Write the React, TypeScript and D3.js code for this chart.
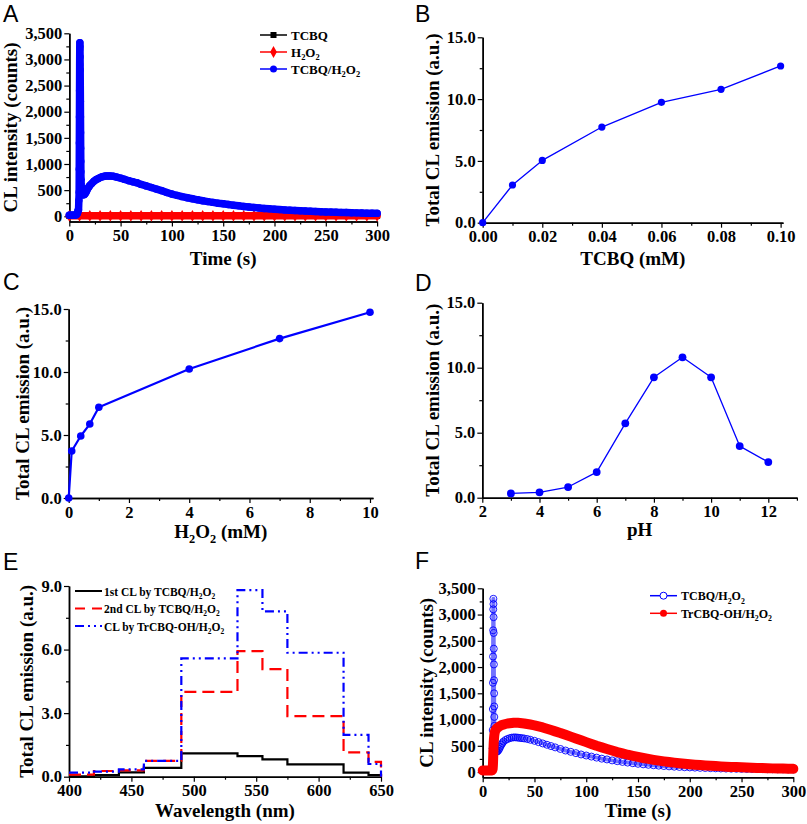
import React, { useEffect, useRef } from "react";
import * as d3 from "d3";

// ---------- data ----------

// kinetic traces (A and F) share one time grid, seconds
const kineticTime = [
  0, 1, 2, 3, 4, 5, 6, 7, 8, 8.5, 9, 9.3,
  9.6, 9.7, 9.8, 9.9, 10, 10.1, 10.2, 10.3, 10.4, 10.5, 10.6, 10.7, 10.8, 10.9, 11, 11.1, 11.2, 11.3, 11.4,
  11.6, 11.8, 12, 12.5, 13, 13.5, 14,
  15, 16, 17, 18, 19, 20,
  22, 24, 26, 28, 30, 32, 34, 36, 38, 40,
  43, 46,
  50, 54, 58, 62, 66, 70,
  75, 80, 85, 90, 95, 100, 105, 110, 115, 120,
  125, 130, 135, 140, 145, 150, 155, 160, 165, 170,
  175, 180, 185, 190, 195, 200, 205, 210, 215, 220,
  225, 230, 235, 240, 245, 250, 255, 260, 265, 270,
  275, 280, 285, 290, 295, 300,
];

// panel A, TCBQ/H2O2
const tcbqH2o2CountsA = [
  20, 20, 20, 20, 20, 20, 25, 30, 60, 110, 120, 300,
  460, 900, 1400, 1900, 2400, 2900, 3200, 3320, 3250, 3050, 2800, 2500, 2200, 1900, 1600, 1300, 1050, 850, 700,
  600, 540, 500, 460, 430, 420, 410,
  420, 450, 490, 530, 560, 590,
  630, 670, 700, 720, 740, 755, 765, 770, 770, 770,
  765, 750,
  730, 705, 680, 660, 640, 610,
  580, 550, 520, 490, 455, 425, 400, 375, 355, 335,
  315, 298, 281, 265, 250, 240, 225, 212, 200, 188,
  177, 167, 158, 150, 142, 135, 128, 122, 116, 110,
  105, 100, 95, 91, 87, 83, 80, 77, 74, 71,
  68, 65, 62, 60, 58, 56,
];

// panel A controls (flat near zero)
const controlTime = [0, 10, 20, 30, 40, 50, 60, 70, 80, 90, 100, 110, 120, 130, 140, 150, 160, 170, 180, 190, 200, 210, 220, 230, 240, 250, 260, 270, 280, 290, 300];
const tcbqCounts = [5, 5, 5, 5, 5, 5, 5, 5, 5, 5, 5, 5, 5, 5, 5, 5, 5, 5, 5, 5, 5, 5, 5, 5, 5, 5, 5, 5, 5, 5, 5];
const h2o2Counts = [8, 8, 8, 8, 8, 8, 8, 8, 8, 8, 8, 8, 8, 8, 8, 8, 8, 8, 8, 8, 8, 8, 8, 8, 8, 8, 8, 8, 8, 8, 8];

// panel F
const tcbqH2o2CountsF = [
  40, 40, 40, 40, 40, 40, 40, 40, 40, 40, 50, 150,
  450, 800, 1200, 1700, 2200, 2700, 3100, 3300, 3200, 2950, 2650, 2350, 2050, 1750, 1500, 1250, 1050, 880, 740,
  620, 540, 480, 430, 400, 390, 390,
  410, 440, 480, 520, 550, 580,
  610, 630, 645, 655, 660, 660, 655, 650, 645, 640,
  630, 615,
  595, 570, 545, 520, 495, 470,
  440, 410, 385, 360, 335, 315, 295, 275, 255, 240,
  222, 207, 193, 180, 168, 157, 147, 138, 130, 122,
  115, 108, 102, 97, 92, 88, 84, 80, 77, 74,
  71, 68, 66, 64, 62, 60, 58, 57, 56, 55,
  54, 53, 52, 51, 50, 50,
];
const trcbqOhCounts = [
  30, 30, 30, 30, 30, 30, 30, 30, 30, 30, 30, 40,
  60, 80, 110, 150, 200, 260, 320, 380, 440, 490, 540, 580, 610, 640, 660, 680, 700, 715, 730,
  750, 765, 780, 800, 815, 830, 840,
  855, 870, 880, 890, 900, 905,
  915, 925, 930, 935, 940, 940, 938, 935, 930, 925,
  915, 905,
  890, 870, 850, 825, 800, 775,
  745, 710, 675, 640, 605, 570, 535, 500, 470, 440,
  410, 380, 355, 330, 308, 287, 268, 250, 233, 218,
  204, 191, 179, 168, 158, 149, 141, 133, 126, 120,
  114, 108, 103, 98, 94, 90, 86, 82, 79, 76,
  73, 70, 68, 66, 64, 62,
];

// panel B
const tcbqConc = [0, 0.01, 0.02, 0.04, 0.06, 0.08, 0.1];
const tcbqEmission = [0, 3.05, 5.04, 7.74, 9.74, 10.79, 12.68];

// panel C
const h2o2Conc = [0, 0.1, 0.4, 0.7, 1, 4, 7, 10];
const h2o2Emission = [0, 3.73, 4.92, 5.87, 7.2, 10.24, 12.65, 14.74];

// panel D
const phValues = [3, 4, 5, 6, 7, 8, 9, 10, 11, 12];
const phEmission = [0.33, 0.41, 0.82, 1.97, 5.72, 9.26, 10.8, 9.26, 3.97, 2.74];

// panel E (step edges, nm; last entry closes the histogram)
const wavelengthEdges = [400, 420, 440, 460, 490, 535, 555, 575, 620, 640, 650];
const firstCL = [0.02, 0.07, 0.2, 0.42, 1.1, 0.97, 0.82, 0.58, 0.19, 0.08, 0];
const secondCL = [0.1, 0.27, 0.3, 0.75, 4.0, 5.93, 5.08, 2.86, 1.15, 0.7, 0];
const trcbqOhCL = [0.19, 0.24, 0.35, 0.75, 5.58, 8.81, 7.8, 5.85, 1.97, 0.6, 0];

// ticks
const countTicks = [0, 500, 1000, 1500, 2000, 2500, 3000, 3500];
const timeTicks = [0, 50, 100, 150, 200, 250, 300];
const emissionTicks = [0, 5, 10, 15];
const tcbqTicks = [0, 0.02, 0.04, 0.06, 0.08, 0.1];
const h2o2Ticks = [0, 2, 4, 6, 8, 10];
const phTicks = [2, 4, 6, 8, 10, 12];
const spectrumTicks = [0, 3, 6, 9];
const wavelengthTicks = [400, 450, 500, 550, 600, 650];

// ---------- styling ----------
const BLUE = "#0000ff";
const RED = "#ff0000";
const SERIF = "'Liberation Serif', 'Times New Roman', serif";
const SANS = "'Liberation Sans', Arial, sans-serif";
const TICK_FONT = 16.5;
const TITLE_FONT = 19;

const midpoints = (t: number[]) => t.slice(1).map((v, i) => (v + t[i]) / 2);

// text with "_2" style subscripts
function richText(sel: any, label: string, size: number) {
  const parts = label.split(/(_\d)/).filter((s) => s.length);
  let down = false;
  parts.forEach((p) => {
    if (p.startsWith("_")) {
      sel.append("tspan").attr("font-size", size * 0.65).attr("dy", down ? 0 : size * 0.28).text(p.slice(1));
      down = true;
    } else {
      sel.append("tspan").attr("dy", down ? -size * 0.28 : 0).text(p);
      down = false;
    }
  });
}

function frame(svg: any, s: any) {
  const x = d3.scaleLinear().domain(s.xDomain).range([s.left, s.right]);
  const y = d3.scaleLinear().domain(s.yDomain).range([s.bottom, s.top]);
  const g = svg.append("g");

  const style = (a: any) => {
    a.attr("font-size", TICK_FONT).attr("font-family", SERIF).attr("font-weight", "bold");
    a.select(".domain").attr("stroke-width", 1.5);
    a.selectAll(".tick line").attr("stroke-width", 1.2);
    a.selectAll("text").attr("fill", "#000");
  };

  g.append("g")
    .attr("transform", `translate(0,${s.bottom})`)
    .call(d3.axisBottom(x).tickValues(s.xMinor).tickSize(3).tickSizeOuter(0).tickFormat(() => ""))
    .call(style);
  g.append("g")
    .attr("transform", `translate(${s.left},0)`)
    .call(d3.axisLeft(y).tickValues(s.yMinor).tickSize(3).tickSizeOuter(0).tickFormat(() => ""))
    .call(style);
  g.append("g")
    .attr("transform", `translate(0,${s.bottom})`)
    .call(d3.axisBottom(x).tickValues(s.xMajor).tickSize(5).tickSizeOuter(0).tickPadding(3).tickFormat(s.xFormat))
    .call(style);
  g.append("g")
    .attr("transform", `translate(${s.left},0)`)
    .call(d3.axisLeft(y).tickValues(s.yMajor).tickSize(5).tickSizeOuter(0).tickPadding(2).tickFormat(s.yFormat))
    .call(style);

  const xt = svg
    .append("text")
    .attr("x", (s.left + s.right) / 2)
    .attr("y", s.xTitleY)
    .attr("text-anchor", "middle")
    .attr("font-family", SERIF)
    .attr("font-weight", "bold")
    .attr("font-size", TITLE_FONT);
  richText(xt, s.xTitle, TITLE_FONT);

  svg
    .append("text")
    .attr("transform", `translate(${s.yTitleX + TITLE_FONT * 0.34},${(s.top + s.bottom) / 2}) rotate(-90)`)
    .attr("text-anchor", "middle")
    .attr("font-family", SERIF)
    .attr("font-weight", "bold")
    .attr("font-size", TITLE_FONT)
    .text(s.yTitle);

  svg
    .append("text")
    .attr("x", s.letterX)
    .attr("y", s.letterY)
    .attr("font-family", SANS)
    .attr("font-size", 23)
    .text(s.letter);

  return { x, y };
}

function legendRow(svg: any, lx: number, ly: number, color: string, label: string, marker: string, size: number, dash?: string) {
  svg
    .append("line")
    .attr("x1", lx)
    .attr("x2", lx + 27)
    .attr("y1", ly)
    .attr("y2", ly)
    .attr("stroke", color)
    .attr("stroke-width", marker === "none" ? 2 : 1.5)
    .attr("stroke-dasharray", dash || null);
  const mx = lx + 13.5;
  if (marker === "square") svg.append("rect").attr("x", mx - 3).attr("y", ly - 3).attr("width", 6).attr("height", 6).attr("fill", color);
  if (marker === "diamond")
    svg.append("path").attr("transform", `translate(${mx},${ly})`).attr("d", d3.symbol(d3.symbolDiamond, 40)()).attr("fill", color);
  if (marker === "circle") svg.append("circle").attr("cx", mx).attr("cy", ly).attr("r", 3.5).attr("fill", color);
  if (marker === "open") svg.append("circle").attr("cx", mx).attr("cy", ly).attr("r", 3.5).attr("fill", "#fff").attr("stroke", color);
  const t = svg
    .append("text")
    .attr("x", lx + (marker === "none" ? 29 : 31))
    .attr("y", ly + 4.5)
    .attr("font-family", SERIF)
    .attr("font-weight", "bold")
    .attr("font-size", size);
  richText(t, label, size);
}

function band(svg: any, x: any, y: any, xs: number[], ys: number[], color: string, width: number, opacity = 1) {
  const n = Math.min(xs.length, ys.length);
  const pts = d3.range(n).map((i) => [xs[i], ys[i]] as [number, number]);
  svg
    .append("path")
    .attr("d", d3.line().x((d) => x(d[0])).y((d) => y(d[1]))(pts))
    .attr("fill", "none")
    .attr("stroke", color)
    .attr("stroke-opacity", opacity)
    .attr("stroke-width", width)
    .attr("stroke-linejoin", "round")
    .attr("stroke-linecap", "round");
  return pts;
}

function lineWithDots(svg: any, x: any, y: any, xs: number[], ys: number[], width: number, r: number) {
  const pts = band(svg, x, y, xs, ys, BLUE, width);
  svg
    .append("g")
    .selectAll("circle")
    .data(pts)
    .enter()
    .append("circle")
    .attr("cx", (d: any) => x(d[0]))
    .attr("cy", (d: any) => y(d[1]))
    .attr("r", r)
    .attr("fill", BLUE);
}

export default function App() {
  const ref = useRef<SVGSVGElement>(null);

  useEffect(() => {
    const svg = d3.select(ref.current);
    svg.selectAll("*").remove();
    svg.append("rect").attr("width", 807).attr("height", 824).attr("fill", "#fff");

    const fmtCount = d3.format(",");
    const fmt1 = d3.format(".1f");

    // ---- A ----
    const a = frame(svg, {
      letter: "A", letterX: 3, letterY: 21.5,
      left: 69.3, right: 377.1, bottom: 221.5, top: 33.3,
      xDomain: [0, 300], yDomain: [-100, 3500],
      xMajor: timeTicks, xMinor: midpoints(timeTicks),
      yMajor: countTicks, yMinor: midpoints(countTicks),
      xFormat: d3.format("d"), yFormat: fmtCount,
      xTitle: "Time (s)", xTitleY: 265,
      yTitle: "CL intensity (counts)", yTitleX: 11,
    });
    const pa = svg.append("g");
    const blackPts = band(pa, a.x, a.y, controlTime, tcbqCounts, "#000", 6);
    pa.append("g").selectAll("rect").data(blackPts).enter().append("rect")
      .attr("x", (d: any) => a.x(d[0]) - 3).attr("y", (d: any) => a.y(d[1]) - 3)
      .attr("width", 6).attr("height", 6).attr("fill", "#000");
    const redPts = band(pa, a.x, a.y, controlTime, h2o2Counts, RED, 7.5);
    pa.append("g").selectAll("path").data(redPts).enter().append("path")
      .attr("transform", (d: any) => `translate(${a.x(d[0])},${a.y(d[1])})`)
      .attr("d", d3.symbol(d3.symbolDiamond, 40)()).attr("fill", RED);
    const bluePts = band(pa, a.x, a.y, kineticTime, tcbqH2o2CountsA, BLUE, 7.5);
    pa.append("g").selectAll("circle").data(bluePts).enter().append("circle")
      .attr("cx", (d: any) => a.x(d[0])).attr("cy", (d: any) => a.y(d[1]))
      .attr("r", 3.7).attr("fill", BLUE);
    legendRow(svg, 260, 35, "#000", "TCBQ", "square", 13);
    legendRow(svg, 260, 52, RED, "H_2O_2", "diamond", 13);
    legendRow(svg, 260, 69, BLUE, "TCBQ/H_2O_2", "circle", 13);

    // ---- B ----
    const b = frame(svg, {
      letter: "B", letterX: 415, letterY: 21.5,
      left: 482.7, right: 783, bottom: 222.7, top: 37.3,
      xDomain: [0, 0.1008], yDomain: [0, 15],
      xMajor: tcbqTicks, xMinor: midpoints(tcbqTicks),
      yMajor: emissionTicks, yMinor: midpoints(emissionTicks),
      xFormat: d3.format(".2f"), yFormat: fmt1,
      xTitle: "TCBQ (mM)", xTitleY: 265,
      yTitle: "Total CL emission (a.u.)", yTitleX: 433,
    });
    lineWithDots(svg, b.x, b.y, tcbqConc, tcbqEmission, 1.3, 3.6);

    // ---- C ----
    const c = frame(svg, {
      letter: "C", letterX: 3, letterY: 290,
      left: 68.7, right: 373, bottom: 498, top: 309,
      xDomain: [0, 10.1], yDomain: [0, 15],
      xMajor: h2o2Ticks, xMinor: midpoints(h2o2Ticks),
      yMajor: emissionTicks, yMinor: midpoints(emissionTicks),
      xFormat: d3.format("d"), yFormat: fmt1,
      xTitle: "H_2O_2 (mM)", xTitleY: 538,
      yTitle: "Total CL emission (a.u.)", yTitleX: 22.5,
    });
    lineWithDots(svg, c.x, c.y, h2o2Conc, h2o2Emission, 2.2, 3.8);

    // ---- D ----
    const d = frame(svg, {
      letter: "D", letterX: 415, letterY: 291,
      left: 482.3, right: 796.9, bottom: 497.7, top: 302.7,
      xDomain: [2, 13], yDomain: [0, 15],
      xMajor: phTicks, xMinor: [3, 5, 7, 9, 11, 13],
      yMajor: emissionTicks, yMinor: midpoints(emissionTicks),
      xFormat: d3.format("d"), yFormat: fmt1,
      xTitle: "pH", xTitleY: 536,
      yTitle: "Total CL emission (a.u.)", yTitleX: 433,
    });
    lineWithDots(svg, d.x, d.y, phValues, phEmission, 1.3, 3.9);

    // ---- E ----
    const e = frame(svg, {
      letter: "E", letterX: 3, letterY: 570,
      left: 69, right: 381, bottom: 776.7, top: 586,
      xDomain: [400, 650], yDomain: [0, 9],
      xMajor: wavelengthTicks, xMinor: midpoints(wavelengthTicks),
      yMajor: spectrumTicks, yMinor: midpoints(spectrumTicks),
      xFormat: d3.format("d"), yFormat: fmt1,
      xTitle: "Wavelength (nm)", xTitleY: 817,
      yTitle: "Total CL emission (a.u.)", yTitleX: 27,
    });
    const step = d3.line<number>().curve(d3.curveStepAfter)
      .x((_, i) => e.x(wavelengthEdges[i]));
    const spectra: [number[], string, string | null][] = [
      [firstCL, "#000", null],
      [secondCL, RED, "12,6"],
      [trcbqOhCL, BLUE, "9,4,2,4,2,4"],
    ];
    spectra.forEach(([vals, color, dash]) => {
      svg.append("path")
        .attr("d", step.y((v) => e.y(v))(vals))
        .attr("fill", "none").attr("stroke", color).attr("stroke-width", 2.2)
        .attr("stroke-dasharray", dash);
    });
    legendRow(svg, 75, 591, "#000", "1st CL by TCBQ/H_2O_2", "none", 11.5);
    legendRow(svg, 75, 608.5, RED, "2nd CL by TCBQ/H_2O_2", "none", 11.5, "10,7");
    legendRow(svg, 75, 626, BLUE, "CL by TrCBQ-OH/H_2O_2", "none", 11.5, "9,4,2,4,2,4");

    // ---- F ----
    const f = frame(svg, {
      letter: "F", letterX: 415, letterY: 569,
      left: 482.7, right: 793.3, bottom: 777.3, top: 588.3,
      xDomain: [0, 300], yDomain: [-100, 3500],
      xMajor: timeTicks, xMinor: midpoints(timeTicks),
      yMajor: countTicks, yMinor: midpoints(countTicks),
      xFormat: d3.format("d"), yFormat: fmtCount,
      xTitle: "Time (s)", xTitleY: 817,
      yTitle: "CL intensity (counts)", yTitleX: 427,
    });
    const pf = svg.append("g");
    const openPts = band(pf, f.x, f.y, kineticTime, tcbqH2o2CountsF, BLUE, 4, 0.55);
    pf.append("g").selectAll("circle").data(openPts).enter().append("circle")
      .attr("cx", (q: any) => f.x(q[0])).attr("cy", (q: any) => f.y(q[1]))
      .attr("r", 3.5).attr("fill", "none").attr("stroke", BLUE).attr("stroke-width", 0.9);
    const redF = band(pf, f.x, f.y, kineticTime, trcbqOhCounts, RED, 10);
    pf.append("g").selectAll("circle").data(redF).enter().append("circle")
      .attr("cx", (q: any) => f.x(q[0])).attr("cy", (q: any) => f.y(q[1]))
      .attr("r", 4).attr("fill", RED);
    legendRow(svg, 650, 595.7, BLUE, "TCBQ/H_2O_2", "open", 12);
    legendRow(svg, 650, 613.3, RED, "TrCBQ-OH/H_2O_2", "circle", 12);
  }, []);

  return (
    <svg
      ref={ref}
      width={807}
      height={824}
      style={{ position: "absolute", left: 0, top: 0, display: "block" }}
    />
  );
}
